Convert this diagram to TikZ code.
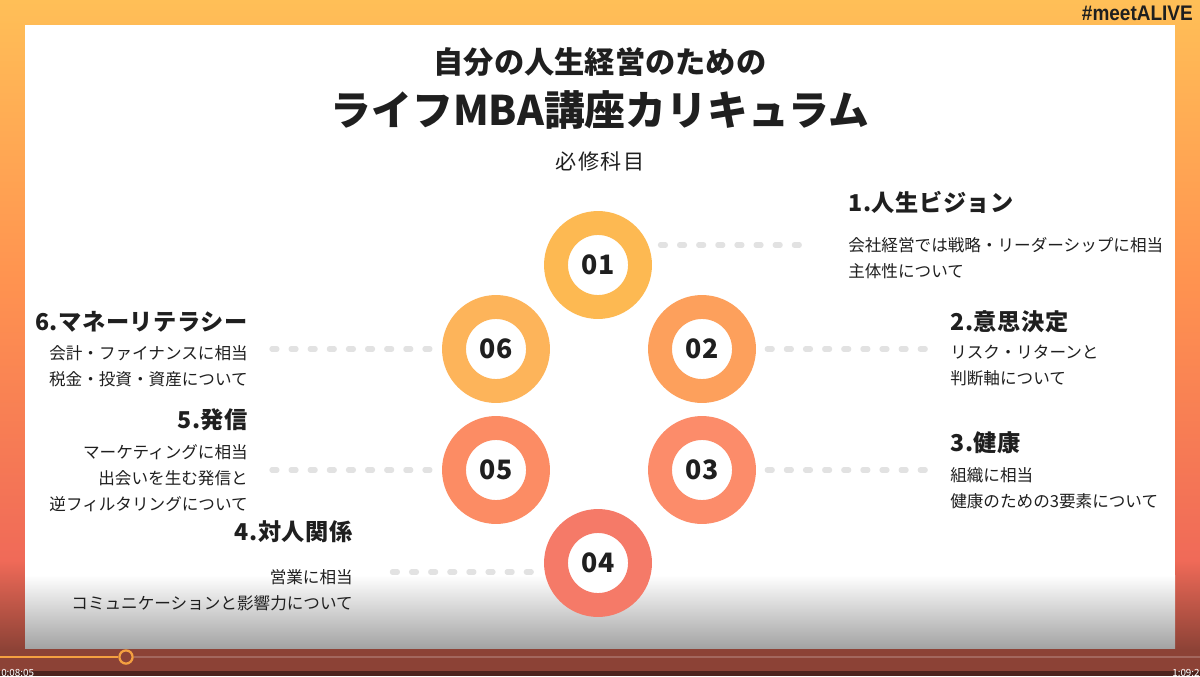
\documentclass[tikz,border=0pt]{standalone}
\usepackage{fontspec}
\setmainfont{Noto Sans CJK JP}
\newfontfamily\tagfont[FakeStretch=0.9]{Liberation Sans}
\usetikzlibrary{
  positioning,
  calc
}
\definecolor{alFrameTop}{HTML}{FFBF57}
\definecolor{alFrameMid}{HTML}{FF9350}
\definecolor{alFrameLow}{HTML}{F06A58}
\definecolor{alFrameDark}{HTML}{8C4236}
\definecolor{alInk}{HTML}{1F1F1F}
\definecolor{alDots}{HTML}{E2E2E2}
\definecolor{alBar}{HTML}{F5A040}
\definecolor{alRingA}{HTML}{FDB952}
\definecolor{alRingB}{HTML}{FDA05C}
\definecolor{alRingC}{HTML}{FC8C6A}
\definecolor{alRingD}{HTML}{F57A68}
\definecolor{alRingE}{HTML}{FC8C64}
\definecolor{alRingF}{HTML}{FDB45A}

\begin{document}
\begin{tikzpicture}[
      x=0.025cm, y=-0.025cm,
      ring/.style={
        circle, draw=#1, line width=17pt, fill=white,
        minimum size=2.1cm, inner sep=0pt,
        font=\fontsize{19}{19}\selectfont\bfseries, text=alInk
      },
      heading/.style={font=\fontsize{16.5}{20}\selectfont\bfseries\addfontfeature{LetterSpace=2.5}, text=alInk, inner sep=0pt},
      body/.style={font=\fontsize{11.8}{18.5}\selectfont, text=alInk, inner sep=0pt},
      dots/.style={line width=3.6pt, line cap=round, dash pattern=on 3.6pt off 10pt, alDots}
    ]
      \useasboundingbox (0,0) rectangle (1200,676);

      % Frame and slide
      \fill[top color=alFrameTop, bottom color=alFrameLow, middle color=alFrameMid] (0,0) rectangle (1200,560);
      \fill[top color=alFrameLow, bottom color=alFrameDark] (0,560) rectangle (1200,650);
      \fill[alFrameDark] (0,650) rectangle (1200,676);
      \fill[alFrameDark!55!black] (0,671) rectangle (1200,676);
      \fill[white] (25,25) rectangle (1175,575);
      \fill[top color=white, bottom color=black!36] (25,575) rectangle (1175,648);

      % Player bar
      \node[anchor=east, inner sep=0pt, text=alInk, font=\tagfont\bfseries\fontsize{15}{15}\selectfont] (tag) at (1193,13) {\#meetALIVE};
      \node[circle, draw=alBar, line width=1.6pt, fill=alFrameDark, minimum size=0.33cm, inner sep=0pt] (knob) at (126,657) {};
      \coordinate (barL) at (0,657);
      \coordinate (barR) at (1200,657);
      \draw[alBar, line width=1.6pt] (barL) -- (knob.west);
      \draw[white, opacity=0.2, line width=1.2pt] (knob.east) -- (barR);
      \node[anchor=north west, inner sep=0pt, text=white, font=\fontsize{7}{7}\selectfont] (tnow) at (1,669) {0:08:05};
      \node[anchor=north west, inner sep=0pt, text=white, font=\fontsize{7}{7}\selectfont] (tend) at (1172,669) {1:09:2};

      % Titles
      \node[font=\fontsize{21.5}{24}\selectfont\bfseries, text=alInk] (title1) at (600,62) {自分の人生経営のための};
      \node[font=\fontsize{29}{32}\selectfont\bfseries, text=alInk] (title2) at (600,110) {ライフMBA講座カリキュラム};
      \node[font=\fontsize{15}{18}\selectfont\addfontfeature{LetterSpace=8}, text=alInk] (title3) at (600,161) {必修科目};

      % Rings
      \node[ring=alRingA] (r1) at (598,265) {01};
      \node[ring=alRingB] (r2) at (702,349) {02};
      \node[ring=alRingC] (r3) at (702,470) {03};
      \node[ring=alRingD] (r4) at (598,563) {04};
      \node[ring=alRingE] (r5) at (496,470) {05};
      \node[ring=alRingF] (r6) at (496,349) {06};

      % Right side texts
      \node[heading, anchor=west] (h1) at (848,202) {1.人生ビジョン};
      \node[body, anchor=west, align=left] (t1) at (848,258) {会社経営では戦略・リーダーシップに相当\\主体性について};
      \node[heading, anchor=west] (h2) at (950,322) {2.意思決定};
      \node[body, anchor=west, align=left] (t2) at (950,365) {リスク・リターンと\\判断軸について};
      \node[heading, anchor=west] (h3) at (950,443) {3.健康};
      \node[body, anchor=west, align=left] (t3) at (950,488) {組織に相当\\健康のための3要素について};

      % Left side texts
      \node[heading, anchor=east] (h6) at (248,322) {6.マネーリテラシー};
      \node[body, anchor=east, align=right] (t6) at (248,366) {会計・ファイナンスに相当\\税金・投資・資産について};
      \node[heading, anchor=east] (h5) at (248,420) {5.発信};
      \node[body, anchor=east, align=right] (t5) at (248,478) {マーケティングに相当\\出会いを生む発信と\\逆フィルタリングについて};
      \node[heading, anchor=east] (h4) at (353,532) {4.対人関係};
      \node[body, anchor=east, align=right] (t4) at (353,590) {営業に相当\\コミュニケーションと影響力について};

      % Dotted leaders
      \coordinate (e1) at (810,245);
      \coordinate (e4) at (532,572);
      \draw[dots] ([xshift=6pt]r1.east |- e1) -- (e1);
      \draw[dots] ([xshift=8pt]r2.east) -- ([xshift=-12pt]t2.west |- r2.east);
      \draw[dots] ([xshift=8pt]r3.east) -- ([xshift=-12pt]t3.west |- r3.east);
      \draw[dots] ([xshift=17pt]t6.east |- r6.west) -- ([xshift=-7pt]r6.west);
      \draw[dots] ([xshift=17pt]t5.east |- r5.west) -- ([xshift=-7pt]r5.west);
      \draw[dots] ([xshift=28pt]t4.east |- e4) -- (e4);
    \end{tikzpicture}
\end{document}
